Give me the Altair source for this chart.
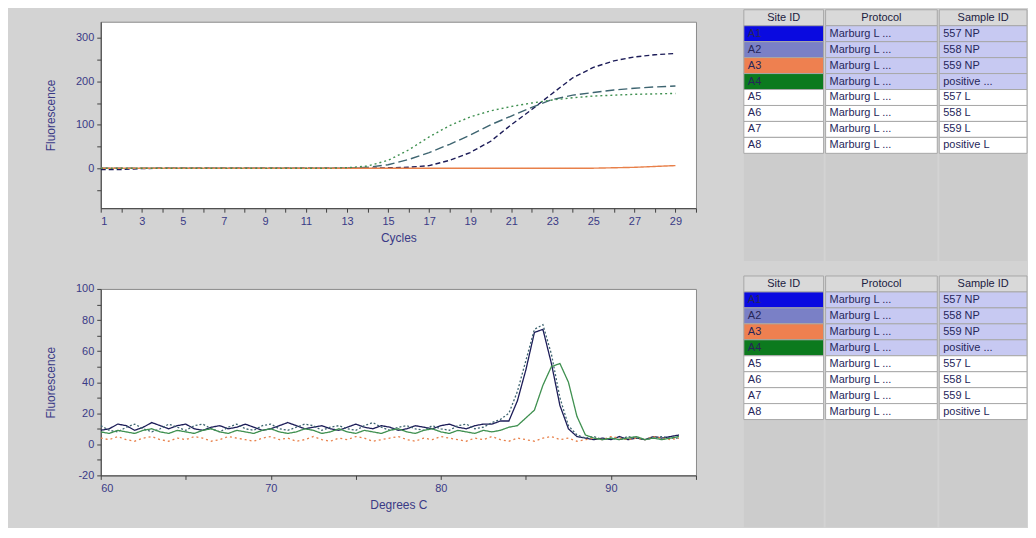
import altair as alt
import pandas as pd

# ---------------- Amplification (top chart) ----------------
cycles = list(range(1, 30))
amp_A1 = [-3, -3, -1, 0, 0, 0, 0, 0, 0, 0, 0, 0, 0, 0, 1,
          2, 6, 18, 36, 62, 100, 135, 172, 208, 232, 247, 256, 261, 264]
amp_A2 = [0, 0, 0, 0, 0, 0, 0, 0, 0, 0, 0, 0, 0, 2, 8,
          20, 36, 55, 76, 100, 120, 140, 158, 168, 174, 180, 184, 187, 189]
amp_A3 = [0, 0, 0, 0, 0, 0, 0, 0, 0, 0, 0, 0, 0, 0, 0,
          0, 0, 0, 0, 0, 0, 0, 0, 0, 0, 1, 2, 4, 6]
amp_A4 = [0, 0, 0, 0, 0, 0, 0, 0, 0, 0, 0, 0, 1, 5, 18,
          42, 72, 98, 118, 132, 142, 150, 157, 162, 166, 168, 170, 171, 172]

# ---------------- Melt curve (bottom chart) ----------------
temps = [60 + 0.5 * i for i in range(69)]
melt_A1 = [9, 10, 13, 12, 9, 11, 14, 12, 10, 12, 13, 10, 9, 11, 12, 10, 11, 13, 11, 9,
           10, 12, 14, 12, 10, 11, 12, 10, 9, 11, 13, 11, 10, 12, 11, 9, 10, 12, 11, 10,
           12, 13, 11, 10, 12, 13, 13, 15, 15, 28, 48, 72, 74, 52, 25, 10, 5, 4, 3, 4,
           3, 5, 3, 4, 3, 5, 4, 5, 6]
melt_A2 = [12, 9, 8, 11, 13, 10, 8, 10, 13, 11, 9, 12, 13, 10, 8, 11, 13, 10, 9, 12,
           13, 10, 9, 11, 13, 12, 9, 11, 12, 10, 9, 12, 14, 11, 9, 11, 12, 10, 9, 12,
           10, 9, 12, 13, 10, 11, 14, 16, 20, 34, 54, 74, 77, 58, 30, 12, 6, 4, 5, 3,
           4, 3, 5, 4, 3, 4, 5, 4, 4]
melt_A3 = [4, 3, 5, 3, 2, 4, 5, 3, 2, 4, 3, 5, 4, 2, 3, 5, 4, 3, 2, 4,
           5, 3, 4, 2, 3, 5, 3, 2, 4, 3, 5, 4, 2, 3, 4, 5, 3, 2, 4, 3,
           5, 4, 3, 2, 4, 3, 5, 3, 2, 4, 3, 2, 4, 5, 3, 4, 2, 3, 4, 3,
           5, 4, 3, 4, 3, 5, 4, 3, 4]
melt_A4 = [8, 7, 9, 8, 7, 9, 10, 8, 7, 9, 8, 7, 9, 10, 8, 7, 9, 8, 7, 9,
           10, 8, 7, 8, 10, 9, 7, 8, 10, 8, 7, 9, 8, 7, 9, 10, 8, 7, 9, 10,
           8, 7, 9, 8, 7, 9, 8, 9, 11, 12, 17, 22, 38, 50, 52, 40, 18, 6, 4, 3,
           4, 3, 4, 5, 3, 4, 3, 4, 5]

# ---------------- Sample table ----------------
site_ids = ["A1", "A2", "A3", "A4", "A5", "A6", "A7", "A8"]
protocols = ["Marburg L ..."] * 8
sample_ids = ["557 NP", "558 NP", "559 NP", "positive ...", "557 L", "558 L", "559 L", "positive L"]
site_colors = ["#0a0ae0", "#7a80c6", "#ee8050", "#0c7a1e", "#ffffff", "#ffffff", "#ffffff", "#ffffff"]
row_fills = ["#c7c9f2", "#c7c9f2", "#c7c9f2", "#c7c9f2", "#ffffff", "#ffffff", "#ffffff", "#ffffff"]
headers = ["Site ID", "Protocol", "Sample ID"]

series = ["A1", "A2", "A3", "A4"]
series_colors = ["#1c1c58", "#3d6470", "#e8804a", "#3f9050"]

FONT = "Liberation Sans"
LABEL_COLOR = "#3a3a86"

amp_rows = []
for s, vals in zip(series, [amp_A1, amp_A2, amp_A3, amp_A4]):
    for c, v in zip(cycles, vals):
        amp_rows.append({"cycle": c, "fluor": v, "well": s})
df_amp = pd.DataFrame(amp_rows)

melt_rows = []
for s, vals in zip(series, [melt_A1, melt_A2, melt_A3, melt_A4]):
    for t, v in zip(temps, vals):
        melt_rows.append({"temp": t, "fluor": v, "wellm": s})
df_melt = pd.DataFrame(melt_rows)

plot_view = alt.ViewBackground(fill="white", stroke="#8a8a8a", strokeWidth=1)

top = alt.Chart(df_amp).mark_line(strokeWidth=1.4, clip=True).encode(
    x=alt.X("cycle:Q", scale=alt.Scale(domain=[1, 30], nice=False, zero=False),
            axis=alt.Axis(title="Cycles", values=list(range(1, 31)),
                          labelExpr="datum.value % 2 == 1 ? datum.value : ''")),
    y=alt.Y("fluor:Q", scale=alt.Scale(domain=[-92, 337], nice=False, zero=False),
            axis=alt.Axis(title="Fluorescence", values=[-50, 0, 50, 100, 150, 200, 250, 300],
                          labelExpr="datum.value % 100 == 0 ? datum.value : ''")),
    color=alt.Color("well:N", scale=alt.Scale(domain=series, range=series_colors), legend=None),
    strokeDash=alt.StrokeDash("well:N", scale=alt.Scale(domain=series,
                              range=[[5, 3], [9, 4], [1, 0], [2, 3]]), legend=None),
).properties(width=597, height=187, view=plot_view)

bottom = alt.Chart(df_melt).mark_line(strokeWidth=1.3, clip=True).encode(
    x=alt.X("temp:Q", scale=alt.Scale(domain=[60, 95], nice=False, zero=False),
            axis=alt.Axis(title="Degrees C", values=[60, 65, 70, 75, 80, 85, 90, 95],
                          labelExpr="datum.value % 10 == 0 ? datum.value : ''")),
    y=alt.Y("fluor:Q", scale=alt.Scale(domain=[-20, 100], nice=False, zero=False),
            axis=alt.Axis(title="Fluorescence", values=list(range(-20, 101, 10)),
                          labelExpr="datum.value % 20 == 0 ? datum.value : ''")),
    color=alt.Color("wellm:N", scale=alt.Scale(domain=series, range=series_colors), legend=None),
    strokeDash=alt.StrokeDash("wellm:N", scale=alt.Scale(domain=series,
                              range=[[1, 0], [2, 2], [2, 3], [1, 0]]), legend=None),
).properties(width=597, height=187, view=plot_view)

# invisible spacer that pushes the plots below the table header line
spacer = alt.Chart(pd.DataFrame({"s": [0]})).mark_point(opacity=0, size=0).encode(
    x=alt.X("s:Q", axis=None), y=alt.Y("s:Q", axis=None)
).properties(width=597, height=1, view=alt.ViewBackground(strokeWidth=0))

plots = alt.vconcat(top, bottom, spacing=38).resolve_scale(
    color="independent", strokeDash="independent")
left = alt.vconcat(spacer, plots, spacing=10)


def table_column(header, texts, fills, width):
    rows = [{"col": header, "r0": 0, "r1": 1, "rm": 0.5, "txt": header,
             "fill": "#d9d9d9", "hdr": 1}]
    for i, (t, f) in enumerate(zip(texts, fills)):
        rows.append({"col": header, "r0": i + 1, "r1": i + 2, "rm": i + 1.5,
                     "txt": t, "fill": f, "hdr": 0})
    df = pd.DataFrame(rows)
    yscale = alt.Scale(domain=[0, 15.75], reverse=True, nice=False, zero=False)
    bscale = alt.Scale(paddingInner=0, paddingOuter=0)
    base = alt.Chart(df)
    cells = base.mark_rect(stroke="#a8a8a8", strokeWidth=1).encode(
        x=alt.X("col:N", axis=None, scale=bscale),
        y=alt.Y("r0:Q", scale=yscale, axis=None), y2="r1:Q",
        fill=alt.Fill("fill:N", scale=None),
    )
    head = base.transform_filter("datum.hdr == 1").mark_text(
        font=FONT, fontSize=11, color="#202040", align="center", baseline="middle").encode(
        x=alt.X("col:N", axis=None, bandPosition=0.5, scale=bscale),
        y=alt.Y("rm:Q", scale=yscale, axis=None), text="txt:N")
    body = base.transform_filter("datum.hdr == 0").mark_text(
        font=FONT, fontSize=11, color="#26265a", align="left", baseline="middle", dx=4).encode(
        x=alt.X("col:N", axis=None, bandPosition=0, scale=bscale),
        y=alt.Y("rm:Q", scale=yscale, axis=None), text="txt:N")
    return alt.layer(cells, head, body).properties(
        width=width, height=252,
        view=alt.ViewBackground(fill="#cccccc", strokeWidth=0))


def table():
    return alt.hconcat(
        table_column(headers[0], site_ids, site_colors, 80),
        table_column(headers[1], protocols, row_fills, 112),
        table_column(headers[2], sample_ids, row_fills, 88),
        spacing=0)


right = alt.vconcat(table(), table(), spacing=14)

chart = alt.hconcat(left, right, spacing=46).properties(
    padding={"left": 36, "top": 0, "right": 0, "bottom": 0}
).configure(background="#d3d3d3").configure_axis(
    labelFont=FONT, labelFontSize=11, labelColor=LABEL_COLOR,
    titleFont=FONT, titleFontSize=12, titleColor=LABEL_COLOR, titleFontWeight="normal",
    domainColor="#404040", tickColor="#404040", tickSize=4, labelPadding=3,
    grid=False,
).configure_axisY(titlePadding=18).configure_axisX(titlePadding=6)

chart.save("out.html", embed_options={"renderer": "svg", "actions": False})
